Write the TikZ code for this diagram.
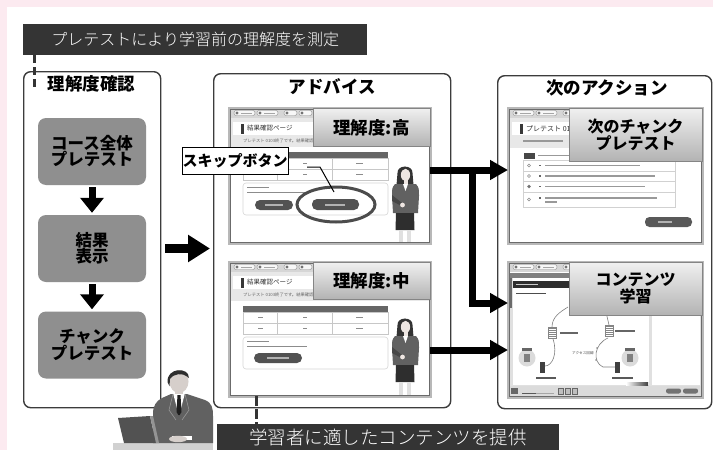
\documentclass[tikz,border=0pt]{standalone}
\usepackage{fontspec}
\setmainfont{Noto Sans CJK JP}
\IfFontExistsTF{Noto Sans CJK JP Light}
  {\newfontfamily\captionfont{Noto Sans CJK JP Light}}
  {\newfontfamily\captionfont{Noto Sans CJK JP}}
\usetikzlibrary{arrows.meta,shapes.geometric,calc}

\definecolor{pagepink}{HTML}{FCEAF0}
\definecolor{bannergrey}{HTML}{343434}
\definecolor{panelline}{HTML}{3C3C3C}
\definecolor{stepgrey}{HTML}{8F8F8F}
\definecolor{skin}{HTML}{EEE6E2}

\tikzset{
  panel/.style={draw=panelline, line width=1.4pt, rounded corners=7pt, fill=white, inner sep=0pt, anchor=north west},
  paneltitle/.style={font=\bfseries\fontsize{17.5}{18}\selectfont, inner sep=0pt},
  stepbox/.style={fill=stepgrey, rounded corners=8pt, minimum width=108pt, minimum height=67pt, align=center, inner sep=0pt, font=\bfseries\fontsize{16.5}{16}\selectfont},
  bannerbar/.style={fill=bannergrey, text=white, inner sep=0pt, anchor=north west},
  dashlink/.style={draw=bannergrey, line width=3pt},
  downarrow/.style={line width=7pt, -{Triangle[length=15pt,width=23pt]}},
  bigarrow/.style={line width=9pt, -{Triangle[length=22pt,width=26pt]}},
  sidearrow/.style={line width=7pt, line join=miter, -{Triangle[length=18pt,width=19pt]}},
  shot/.style={fill=white, inner sep=0pt, anchor=north west},
  shotrim/.style={draw=black!28, line width=3pt},
  shotedge/.style={draw=black!58, line width=0.7pt},
  gradelabel/.style={top color=black!6, bottom color=black!30, draw=black!48, line width=0.8pt, align=center, inner sep=0pt, anchor=north east, font=\bfseries\fontsize{17.5}{18}\selectfont},
  tinytext/.style={inner sep=0pt, anchor=west},
  pill/.style={rounded corners=2.2pt},
}

% toolbar strip along the top of an app window
\newcommand{\appbar}[1]{%
  \fill[black!16] (0,0) rectangle (#1,10);
  \foreach \a in {5,28} {%
    \draw[black!45, fill=black!3, line width=0.4pt, pill] (\a,2.5) rectangle ++(21,5);
    \fill[black!55] (\a+3,5) circle (1.6);
    \fill[black!35] (\a+7,4.5) rectangle ++(11,1);}
  \foreach \a in {55,70} {%
    \draw[black!45, fill=black!3, line width=0.4pt, pill] (\a,2.5) rectangle ++(13,5);
    \fill[black!55] (\a+3,5) circle (1.6);}
}

% result page of the pretest (#1 = prefix for node names)
\newcommand{\resultscreen}[1]{%
  \appbar{201}
  \fill[black!9] (0,10) rectangle (201,39);
  \fill[white] (4,14) rectangle (84,27);
  \fill[black!78] (12,15.5) rectangle (14.5,25.5);
  \node[tinytext, font=\fontsize{6.5}{7}\selectfont, text=black!80] (#1head) at (18,20.5) {結果確認ページ};
  \node[tinytext, font=\fontsize{4.3}{5}\selectfont, text=black!60] (#1note) at (14,33) {プレテスト 0103終了です。結果確認};
  \fill[black!60] (14,44) rectangle (159,50);
  \draw[black!22, line width=0.4pt] (14,50) rectangle (159,72) (14,61) -- (159,61) (48,50) -- (48,72) (103,50) -- (103,72);
  \foreach \yy in {55.5,66.5} {%
    \fill[black!45] (29,\yy-0.6) rectangle ++(5,1.2);
    \fill[black!45] (74,\yy-0.6) rectangle ++(4,1.2);
    \fill[black!45] (127,\yy-0.6) rectangle ++(7,1.2);}
  \draw[black!16, line width=0.6pt, rounded corners=3pt] (14,75) rectangle (159,107);
  \fill[black!45] (18,79) rectangle ++(22,1.3);
  \fill[black!45] (18,83.5) rectangle ++(60,1.3);
}

% pretest question page (#1 = prefix for node names)
\newcommand{\pretestscreen}[1]{%
  \appbar{194}
  \fill[black!9] (0,10) rectangle (194,40);
  \fill[white] (4,14) rectangle (64,27);
  \fill[black!78] (12,15.5) rectangle (14.5,25.5);
  \node[tinytext, font=\fontsize{7}{7}\selectfont, text=black!80] (#1head) at (18,20.5) {プレテスト 01};
  \fill[black!40] (15,32.3) rectangle ++(40,1.4);
  \fill[black!72] (16,45) rectangle (27,50.5);
  \fill[black!40] (30,47) rectangle ++(40,1.3);
  \draw[black!18, line width=0.5pt] (15,52) rectangle (167,99) (15,63) -- (167,63) (15,73) -- (167,73) (15,84) -- (167,84);
  \foreach \yy/\len in {57.5/95,68/110,78.5/100} {%
    \draw[black!45, line width=0.4pt] (21,\yy) circle (1.5);
    \fill[black!60] (31,\yy-0.8) rectangle ++(2,1.6);
    \fill[black!40] (37,\yy-0.6) rectangle ++(\len,1.2);}
  \fill[black!55] (21,78.5) circle (1.5);
  \draw[black!45, line width=0.4pt] (21,91.5) circle (1.5);
  \fill[black!60] (31,89.2) rectangle ++(2,1.6);
  \fill[black!40] (37,89.4) rectangle ++(112,1.2);
  \fill[black!40] (37,93.4) rectangle ++(12,1.2);
  \fill[black!65, rounded corners=4.5pt] (137,109) rectangle (184,119);
  \fill[black!30] (150,113.4) rectangle ++(14,1.2);
}

% a server rack drawn in the lesson screen
\newcommand{\serverrack}[2]{%
  \fill[black!48] (#1,#2) rectangle ++(9,12);
  \foreach \k in {1,...,5} \draw[white, line width=0.3pt] (#1+1,#2+\k*2) -- ++(7,0);
}

% lesson content page with a network figure (#1 = prefix for node names)
\newcommand{\lessonscreen}[1]{%
  \appbar{194}
  \fill[black!50] (2,11) rectangle (194,15.5);
  \fill[black!12] (0,15.5) rectangle (194,125);
  \fill[white] (5,16) rectangle (141,123);
  \fill[white] (144,16) rectangle (192,123);
  \fill[black!58] (1.5,16) rectangle (4,46);
  \fill[black!82] (5,18.5) rectangle (62,25.5);
  \fill[black!20] (8,21.5) rectangle ++(22,1.2);
  \fill[black!70] (8,30.5) rectangle ++(30,1.3);
  % cables
  \draw[black!50, line width=0.6pt] (44,65) .. controls (44,55) and (52,50) .. (60,45);
  \draw[black!50, line width=0.6pt] (45,77) .. controls (50,92) and (44,104) .. (37,104);
  \draw[black!50, line width=0.6pt] (101,63) .. controls (100,56) .. (98,50);
  \draw[black!50, line width=0.6pt] (100,76) .. controls (86,82) and (84,100) .. (95,105) -- (107,105);
  \foreach \p in {(89,86),(88,98)} \fill[black!45] \p circle (1);
  \serverrack{40}{65}
  \serverrack{97}{63}
  \fill[black!60] (52,70) rectangle ++(18,1.5);
  \fill[black!60] (107,68) rectangle ++(20,1.5);
  \node[tinytext, font=\fontsize{3.6}{4}\selectfont, text=black!70] (#1line) at (64,91) {アクセス回線};
  % user sites
  \fill[black!14] (19,96) circle (8.5);
  \fill[black!50] (16,92) rectangle ++(6,8);
  \fill[black!60] (14,86) rectangle ++(10,2.5);
  \fill[black!14] (122,96) circle (8.5);
  \fill[black!50] (119,92) rectangle ++(6,8);
  \fill[black!60] (117,86) rectangle ++(10,2.5);
  \fill[black!75] (32,100) rectangle ++(5,11);
  \fill[black!75] (107,100) rectangle ++(5,11);
  \fill[black!65] (28,115) rectangle ++(20,2);
  \fill[black!65] (104,115) rectangle ++(21,2);
  \shade[left color=white, right color=black!75] (118,120) rectangle (140,123);
  % bottom player bar
  \fill[black!14] (0,124) rectangle (194,135);
  \fill[black!60] (3,126) rectangle ++(7,6);
  \draw[black!35, line width=0.6pt] (14,131) -- (46,131);
  \draw[black!65, line width=0.6pt] (14,131) -- (28,131);
  \foreach \a in {50,57,64} \draw[black!60, fill=black!25, line width=0.4pt] (\a,126) rectangle ++(5.5,6);
  \fill[black!55, pill] (158,126.5) rectangle ++(15,5);
  \fill[black!55, pill] (175,126.5) rectangle ++(15,5);
}

% presenter figure; origin at the top of the head
\newcommand{\presenter}{%
  \fill[black!80] (-7.5,7) .. controls (-8,-1.5) and (8,-1.5) .. (7.5,7) -- (8.5,19) -- (-8.5,19) -- cycle;
  \fill[skin] (0.5,9) ellipse (4.6 and 6.2);
  \fill[black!80] (-5,5) .. controls (-2,1) and (3,1) .. (5.5,5) -- (5,3) .. controls (2,0) and (-3,0) .. (-5,3) -- cycle;
  \fill[skin] (-1.5,14) rectangle (2.5,18.5);
  \fill[black!62] (-10,18) -- (11,18) .. controls (14,22) .. (14,30) -- (13,47) -- (-12,47) -- (-13,30) .. controls (-13,22) .. (-10,18) -- cycle;
  \fill[white] (-2,18) -- (3,18) -- (0.5,25) -- cycle;
  \fill[black!72] (-13,29) -- (-3,37) -- (-2.5,40.5) -- (-13,35) -- cycle;
  \fill[skin] (-2.5,39) circle (2.4);
  \fill[black!82] (-9,47) -- (9,47) -- (9.5,64) -- (-9.5,64) -- cycle;
  \fill[black!12] (-6,64) rectangle (-2.5,76.5);
  \fill[black!12] (2,64) rectangle (5.5,76.5);
  \fill[black!70] (-7,76.5) rectangle (-2,78);
  \fill[black!70] (1.5,76.5) rectangle (6.5,78);
}

\begin{document}
\begin{tikzpicture}[x=1pt,y=-1pt]
\useasboundingbox (0,0) rectangle (713,450);
\fill[white] (0,0) rectangle (713,450);
\fill[pagepink] (0,0) rectangle (713,7);
\fill[pagepink] (0,0) rectangle (7,450);

% the three columns
\node[panel, minimum width=137pt, minimum height=336pt] (check) at (23,71) {};
\node[panel, minimum width=237pt, minimum height=334pt] (advice) at (213,73) {};
\node[panel, minimum width=214pt, minimum height=333pt] (nextact) at (497,75) {};
\node[paneltitle] (checktitle) at (91.5,84) {理解度確認};
\node[paneltitle] (advicetitle) at (332,87) {アドバイス};
\node[paneltitle] (nexttitle) at (607,88) {次のアクション};

% captions
\node[bannerbar, minimum width=344pt, minimum height=31pt, font=\captionfont\fontsize{16}{16}\selectfont] (measure) at (23,24) {プレテストにより学習前の理解度を測定};
\node[bannerbar, minimum width=342pt, minimum height=27pt, font=\captionfont\fontsize{18.5}{19}\selectfont] (provide) at (217,424) {学習者に適したコンテンツを提供};
\coordinate (measurelink) at (34,90);
\draw[dashlink, dash pattern=on 8pt off 4pt] (measure.south -| measurelink) -- (measurelink);

% comprehension check flow
\node[stepbox] (coursetest) at (92,151.5) {コース全体\\プレテスト};
\node[stepbox] (result) at (92,248.5) {結果\\表示};
\node[stepbox] (chunktest) at (92,345) {チャンク\\プレテスト};
\draw[downarrow, shorten <=2pt, shorten >=2pt] (coursetest.south) -- (result.north);
\draw[downarrow, shorten <=2pt, shorten >=2pt] (result.south) -- (chunktest.north);
\draw[bigarrow, shorten <=4pt, shorten >=3pt] (check.east |- result.center) -- (advice.west |- result.center);

% screenshots
\node[shot, minimum width=201pt, minimum height=135pt] (shothigh) at (229,108) {};
\node[shot, minimum width=201pt, minimum height=134pt] (shotmid) at (229,262) {};
\node[shot, minimum width=194pt, minimum height=135pt] (shotnext) at (508,108) {};
\node[shot, minimum width=194pt, minimum height=135pt] (shotlearn) at (508,262) {};

\begin{scope}[shift={(shothigh.north west)}]
  \resultscreen{high}
  \fill[black!68, rounded corners=5pt] (26,92) rectangle (64,102);
  \fill[black!68, rounded corners=5pt] (83,91) rectangle (130,102);
  \fill[black!30] (36,96.4) rectangle ++(18,1.2);
  \fill[black!30] (96,96.4) rectangle ++(20,1.2);
\end{scope}
\begin{scope}[shift={(405,166)}]
  \presenter
\end{scope}
\begin{scope}[shift={(shotmid.north west)}]
  \resultscreen{mid}
  \fill[black!68, rounded corners=5pt] (25,91) rectangle (73,101);
  \fill[black!30] (38,95.4) rectangle ++(22,1.2);
\end{scope}
\begin{scope}
  \clip (shotmid.north west) rectangle (shotmid.south east);
  \begin{scope}[shift={(405,318)}]
    \presenter
  \end{scope}
\end{scope}
\begin{scope}[shift={(shotnext.north west)}]
  \pretestscreen{next}
\end{scope}
\begin{scope}[shift={(shotlearn.north west)}]
  \lessonscreen{learn}
\end{scope}

\foreach \s in {shothigh,shotmid,shotnext,shotlearn} {
  \draw[shotrim] (\s.north west) rectangle (\s.south east);
  \draw[shotedge] ([shift={(1.5,1.5)}]\s.north west) rectangle ([shift={(-1.5,-1.5)}]\s.south east);
}

% comprehension level tags
\node[gradelabel, minimum width=117pt, minimum height=38pt] (lvhigh) at (shothigh.north east) {理解度:高};
\node[gradelabel, minimum width=117pt, minimum height=37pt] (lvmid) at (shotmid.north east) {理解度:中};
\node[gradelabel, minimum width=133pt, minimum height=53pt, font=\bfseries\fontsize{16}{16.5}\selectfont] (lvnext) at (shotnext.north east) {次のチャンク\\プレテスト};
\node[gradelabel, minimum width=133pt, minimum height=53pt, font=\bfseries\fontsize{16}{17}\selectfont] (lvlearn) at (shotlearn.north east) {コンテンツ\\学習};

% skip button callout
\node[draw=black!70, line width=3pt, ellipse, minimum width=78pt, minimum height=35pt, inner sep=0pt] (skipring) at (336,204.5) {};
\node[draw=black, line width=1pt, fill=white, minimum width=106pt, minimum height=27pt, inner sep=0pt, font=\bfseries\fontsize{15}{15}\selectfont] (skiplabel) at (235,160.5) {スキップボタン};
\coordinate (skiplead) at (307,167);
\coordinate (skiptip) at (334,192);
\draw[black, line width=1pt] (skiplead) -- ++(13,0) -- (skiptip);

% routes to the next action
\coordinate (branch) at (472,170);
\draw[sidearrow] (shothigh.east |- branch) -- (shotnext.west |- branch);
\draw[sidearrow] (branch) |- (shotlearn.west |- 0,303);
\draw[sidearrow] (shotmid.east |- 0,350) -- (shotlearn.west |- 0,350);

\coordinate (providelink) at (256,396);
\draw[dashlink, dash pattern=on 10pt off 3pt] (providelink) -- (provide.north -| providelink);

% learner at a laptop
\fill[black!18] (113,443) rectangle (213,450);
\begin{scope}[shift={(178,369)}]
  \fill[black!62] (-7,25) -- (9,25) -- (27,31) .. controls (34,34) and (35,39) .. (35,47) -- (35,74) -- (-25,74) -- (-25,45) .. controls (-25,37) and (-22,32) .. (-16,29) -- cycle;
  \fill[white] (-5,24) -- (7,24) -- (1,47) -- cycle;
  \fill[black!88] (-0.5,26) -- (2.5,26) -- (3.5,43) -- (1,47) -- (-1.5,43) -- cycle;
  \draw[black!40, line width=0.6pt] (-5,25) -- (-9,41) -- (-2,51);
  \draw[black!40, line width=0.6pt] (7,25) -- (11,41) -- (4,51);
  \fill[skin!90!black] (-3,18) rectangle (5,25);
  \fill[skin!90!black] (1,12.5) ellipse (9.5 and 11.5);
  \fill[black!82] (-10.5,13) .. controls (-11.5,-1.5) and (11,-2.5) .. (11,9) -- (9,7.5) .. controls (5,4) and (-4,4) .. (-8,10) -- (-8.5,17) -- cycle;
  \fill[white] (-6,67) rectangle (14,71);
  \fill[skin!90!black] (0,70) ellipse (9 and 3.2);
\end{scope}
\fill[black!68] (118,418) -- (150,416) -- (156,443) -- (124,443) -- cycle;
\fill[black!42] (150,416) -- (153,416) -- (159,443) -- (156,443) -- cycle;
\end{tikzpicture}
\end{document}
